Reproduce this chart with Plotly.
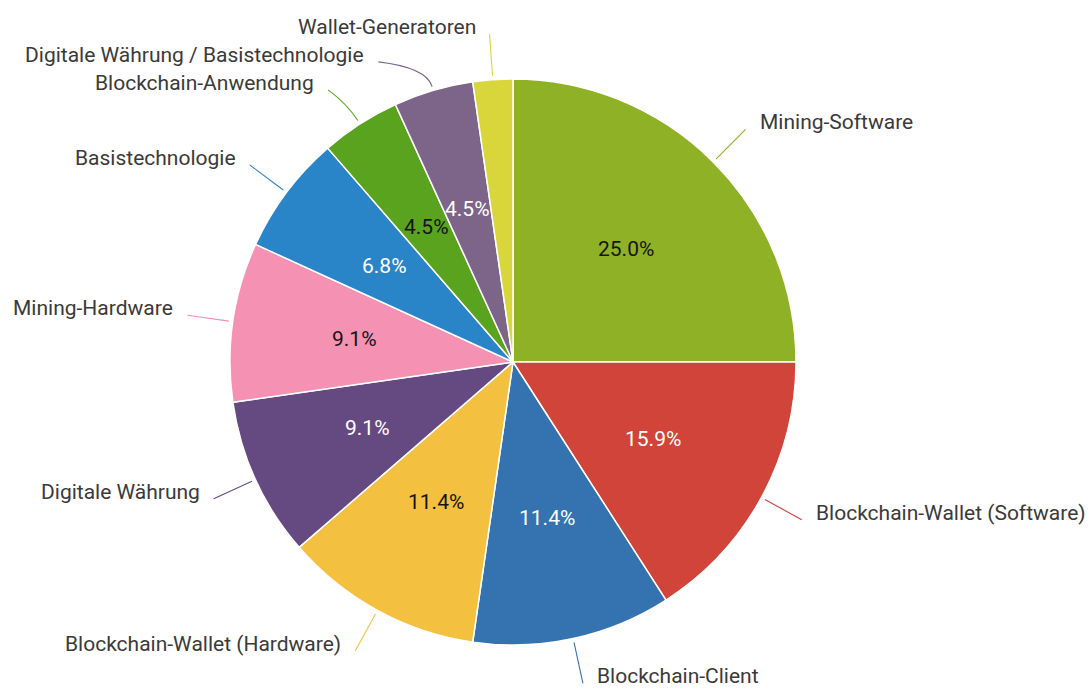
import math
import plotly.graph_objects as go

# Share of projects per category
categories = [
    "Mining-Software",
    "Blockchain-Wallet (Software)",
    "Blockchain-Client",
    "Blockchain-Wallet (Hardware)",
    "Digitale Währung",
    "Mining-Hardware",
    "Basistechnologie",
    "Blockchain-Anwendung",
    "Digitale Währung / Basistechnologie",
    "Wallet-Generatoren",
]
counts = [11, 7, 5, 5, 4, 4, 3, 2, 2, 1]
colors = [
    "#8fb125", "#d0443a", "#3572b0", "#f4c040", "#654a82",
    "#f591b2", "#2a85c8", "#5aa31f", "#7c6589", "#d9d63c",
]
pct_text_colors = [
    "#151515", "#ffffff", "#ffffff", "#151515", "#ffffff",
    "#151515", "#ffffff", "#151515", "#ffffff", "#151515",
]

W, H = 1089, 688
CX, CY, R = 513, 362, 283
FONT = "Roboto"
LABEL_SIZE = 21
LABEL_COLOR = "#3a3a3a"


def paper(px, py):
    return px / W, 1 - py / H


total = sum(counts)
fig = go.Figure(
    go.Pie(
        labels=categories,
        values=counts,
        sort=False,
        direction="clockwise",
        rotation=0,
        marker=dict(colors=colors, line=dict(color="#ffffff", width=1.5)),
        textinfo="none",
        hoverinfo="label+percent",
        showlegend=False,
        domain=dict(
            x=[(CX - R) / W, (CX + R) / W],
            y=[1 - (CY + R) / H, 1 - (CY - R) / H],
        ),
    )
)

# slice mid-angles (clockwise from 12 o'clock)
mids = []
cum = 0
for v in counts:
    mids.append((cum + v / 2) / total * 2 * math.pi)
    cum += v

annotations = []
shapes = []

# percentage labels inside the slices
for ang, v, tc in zip(mids, counts, pct_text_colors):
    share = v / total * 100
    if share < 3:
        continue
    px = CX + 0.565 * R * math.sin(ang)
    py = CY - 0.565 * R * math.cos(ang)
    x, y = paper(px, py)
    annotations.append(dict(
        x=x, y=y, xref="paper", yref="paper", showarrow=False,
        text=f"{share:.1f}%", xanchor="center", yanchor="middle",
        font=dict(family=FONT, size=LABEL_SIZE, color=tc),
    ))

# outside category labels with leader lines, spread to avoid overlaps
RL = R + 46
GAP = 28
ends = {}
for side in (1, -1):
    idx = [i for i, a in enumerate(mids) if (math.sin(a) >= 0) == (side == 1)]
    pts = [(i, CY - RL * math.cos(mids[i])) for i in idx]
    pts.sort(key=lambda t: t[1])
    last = -1e9
    for i, y in pts:
        y = max(y, last + GAP)
        last = y
        dx = math.sqrt(max(RL ** 2 - (y - CY) ** 2, 0))
        ends[i] = (CX + side * dx, y, side)

for i, (cat, ang, col) in enumerate(zip(categories, mids, colors)):
    ex, ey, side = ends[i]
    sx = CX + (R + 4) * math.sin(ang)
    sy = CY - (R + 4) * math.cos(ang)
    qx = CX + (R + 24) * math.sin(ang)
    qy = CY - (R + 24) * math.cos(ang)
    p0, p1, p2 = paper(sx, sy), paper(qx, qy), paper(ex, ey)
    shapes.append(dict(
        type="path", xref="paper", yref="paper",
        path=f"M {p0[0]},{p0[1]} Q {p1[0]},{p1[1]} {p2[0]},{p2[1]}",
        line=dict(color=col, width=1.1),
    ))
    lx, ly = paper(ex + side * 12, ey - 7)
    annotations.append(dict(
        x=lx, y=ly, xref="paper", yref="paper", showarrow=False,
        text=cat, xanchor="left" if side == 1 else "right", yanchor="middle",
        font=dict(family=FONT, size=LABEL_SIZE, color=LABEL_COLOR),
    ))

fig.update_layout(
    width=W, height=H,
    margin=dict(l=0, r=0, t=0, b=0),
    paper_bgcolor="#ffffff",
    plot_bgcolor="#ffffff",
    annotations=annotations,
    shapes=shapes,
    font=dict(family=FONT),
)

fig.write_html("out.html")
